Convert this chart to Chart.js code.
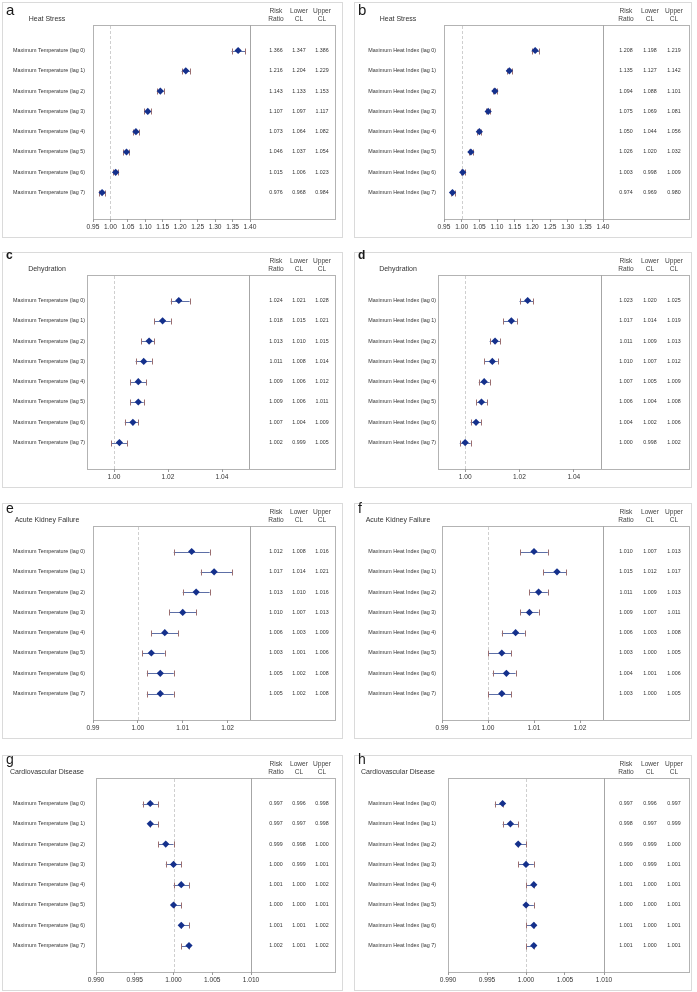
<!DOCTYPE html>
<html><head><meta charset="utf-8">
<script src="https://cdn.jsdelivr.net/npm/chart.js@4"></script>
<style>
html,body{margin:0;padding:0;background:#fff;overflow:hidden;width:697px;height:992px;position:relative;}
canvas{position:absolute;}
</style></head><body>
<script>
// ---------- DATA ----------
const panelLetters = ['a','b','c','d','e','f','g','h'];
const panelTitles = ['Heat Stress','Heat Stress','Dehydration','Dehydration','Acute Kidney Failure','Acute Kidney Failure','Cardiovascular Disease','Cardiovascular Disease'];
const rowLabelsTemp = ['Maximum Temperature (lag 0)','Maximum Temperature (lag 1)','Maximum Temperature (lag 2)','Maximum Temperature (lag 3)','Maximum Temperature (lag 4)','Maximum Temperature (lag 5)','Maximum Temperature (lag 6)','Maximum Temperature (lag 7)'];
const rowLabelsHeat = ['Maximum Heat Index (lag 0)','Maximum Heat Index (lag 1)','Maximum Heat Index (lag 2)','Maximum Heat Index (lag 3)','Maximum Heat Index (lag 4)','Maximum Heat Index (lag 5)','Maximum Heat Index (lag 6)','Maximum Heat Index (lag 7)'];
const tableHeaders = [['Risk','Ratio'],['Lower','CL'],['Upper','CL']];

const rrA = [1.366,1.216,1.143,1.107,1.073,1.046,1.015,0.976];
const loA = [1.347,1.204,1.133,1.097,1.064,1.037,1.006,0.968];
const hiA = [1.386,1.229,1.153,1.117,1.082,1.054,1.023,0.984];

const rrB = [1.208,1.135,1.094,1.075,1.050,1.026,1.003,0.974];
const loB = [1.198,1.127,1.088,1.069,1.044,1.020,0.998,0.969];
const hiB = [1.219,1.142,1.101,1.081,1.056,1.032,1.009,0.980];

const rrC = [1.024,1.018,1.013,1.011,1.009,1.009,1.007,1.002];
const loC = [1.021,1.015,1.010,1.008,1.006,1.006,1.004,0.999];
const hiC = [1.028,1.021,1.015,1.014,1.012,1.011,1.009,1.005];

const rrD = [1.023,1.017,1.011,1.010,1.007,1.006,1.004,1.000];
const loD = [1.020,1.014,1.009,1.007,1.005,1.004,1.002,0.998];
const hiD = [1.025,1.019,1.013,1.012,1.009,1.008,1.006,1.002];

const rrE = [1.012,1.017,1.013,1.010,1.006,1.003,1.005,1.005];
const loE = [1.008,1.014,1.010,1.007,1.003,1.001,1.002,1.002];
const hiE = [1.016,1.021,1.016,1.013,1.009,1.006,1.008,1.008];

const rrF = [1.010,1.015,1.011,1.009,1.006,1.003,1.004,1.003];
const loF = [1.007,1.012,1.009,1.007,1.003,1.000,1.001,1.000];
const hiF = [1.013,1.017,1.013,1.011,1.008,1.005,1.006,1.005];

const rrG = [0.997,0.997,0.999,1.000,1.001,1.000,1.001,1.002];
const loG = [0.996,0.997,0.998,0.999,1.000,1.000,1.001,1.001];
const hiG = [0.998,0.998,1.000,1.001,1.002,1.001,1.002,1.002];

const rrH = [0.997,0.998,0.999,1.000,1.001,1.000,1.001,1.001];
const loH = [0.996,0.997,0.999,0.999,1.000,1.000,1.000,1.000];
const hiH = [0.997,0.999,1.000,1.001,1.001,1.001,1.001,1.001];

const ticksHeatStress = [0.95,1.00,1.05,1.10,1.15,1.20,1.25,1.30,1.35,1.40];
const ticksDehydration = [1.00,1.02,1.04];
const ticksKidney = [0.99,1.00,1.01,1.02];
const ticksCardio = [0.990,0.995,1.000,1.005,1.010];

// ---------- LAYOUT ----------
const FONT = '"Liberation Sans", Arial, Helvetica, sans-serif';
const panels = [
  {rr:rrA, lo:loA, hi:hiA, labels:rowLabelsTemp, ticks:ticksHeatStress, min:0.95, max:1.40, dec:2, col:0, row:0, L:93, R:250, lb:15, lsize:15, lbold:false},
  {rr:rrB, lo:loB, hi:hiB, labels:rowLabelsHeat, ticks:ticksHeatStress, min:0.95, max:1.40, dec:2, col:1, row:0, L:93, R:252, lb:15, lsize:15, lbold:false},
  {rr:rrC, lo:loC, hi:hiC, labels:rowLabelsTemp, ticks:ticksDehydration, min:0.99, max:1.05, dec:2, col:0, row:1, L:87, R:249, lb:9, lsize:12, lbold:true},
  {rr:rrD, lo:loD, hi:hiD, labels:rowLabelsHeat, ticks:ticksDehydration, min:0.99, max:1.05, dec:2, col:1, row:1, L:87, R:250, lb:9, lsize:12, lbold:true},
  {rr:rrE, lo:loE, hi:hiE, labels:rowLabelsTemp, ticks:ticksKidney, min:0.99, max:1.025, dec:2, col:0, row:2, L:93, R:250, lb:12, lsize:14, lbold:false},
  {rr:rrF, lo:loF, hi:hiF, labels:rowLabelsHeat, ticks:ticksKidney, min:0.99, max:1.025, dec:2, col:1, row:2, L:91, R:252, lb:12, lsize:14, lbold:false},
  {rr:rrG, lo:loG, hi:hiG, labels:rowLabelsTemp, ticks:ticksCardio, min:0.990, max:1.010, dec:3, col:0, row:3, L:96, R:251, lb:11, lsize:14, lbold:false},
  {rr:rrH, lo:loH, hi:hiH, labels:rowLabelsHeat, ticks:ticksCardio, min:0.990, max:1.010, dec:3, col:1, row:3, L:97, R:253, lb:11, lsize:14, lbold:false}
];
const colX = [0, 351];
const rowY = [0, 250, 501, 753];
const CW = 346, CH = 240;
const colGeom = [
  {outerL:2, outerW:340, boxR:335, tcols:[276,299,322]},
  {outerL:3, outerW:337, boxR:338, tcols:[275,299,323]}
];
const BOX_TOP = 25, BOX_BOTTOM = 219;
const ROW0 = 50.5, ROWSTEP = 20.3;
const yMin = -(ROW0 - BOX_TOP) / ROWSTEP;
const yMax = yMin + (BOX_BOTTOM - BOX_TOP) / ROWSTEP;

function makePlugin(p, idx) {
  const g = colGeom[p.col];
  return {
    id: 'forest' + idx,
    beforeDraw(chart) {
      const ctx = chart.ctx, ca = chart.chartArea;
      const xs = chart.scales.x, ys = chart.scales.y;
      ctx.save();
      // outer panel frame
      ctx.strokeStyle = '#dadada'; ctx.lineWidth = 1;
      ctx.strokeRect(g.outerL + 0.5, 2.5, g.outerW, 235);
      // panel letter
      ctx.fillStyle = '#1a1a1a';
      ctx.font = (p.lbold ? 'bold ' : '') + p.lsize + 'px ' + FONT;
      ctx.textAlign = 'left'; ctx.textBaseline = 'alphabetic';
      ctx.fillText(panelLetters[idx], g.outerL + 4, p.lb);
      // title
      ctx.fillStyle = '#333';
      ctx.font = '7px ' + FONT;
      ctx.textAlign = 'center'; ctx.textBaseline = 'middle';
      ctx.fillText(panelTitles[idx], 47, 19);
      // table headers
      ctx.font = '6.6px ' + FONT;
      ctx.fillStyle = '#444';
      tableHeaders.forEach((h, k) => {
        ctx.fillText(h[0], g.tcols[k], 11);
        ctx.fillText(h[1], g.tcols[k], 19);
      });
      // inner box
      const L = Math.round(ca.left), T = Math.round(ca.top), B = Math.round(ca.bottom), R = Math.round(ca.right);
      ctx.strokeStyle = '#b3b3b3';
      ctx.strokeRect(L + 0.5, T + 0.5, g.boxR - L, B - T);
      // separator line at end of axis
      ctx.strokeStyle = '#a6a6a6';
      ctx.beginPath(); ctx.moveTo(R + 0.5, T); ctx.lineTo(R + 0.5, B); ctx.stroke();
      // reference line at 1
      const x1 = Math.round(xs.getPixelForValue(1)) + 0.5;
      ctx.strokeStyle = '#cfcfcf'; ctx.setLineDash([3, 2]);
      ctx.beginPath(); ctx.moveTo(x1, T + 1); ctx.lineTo(x1, B); ctx.stroke();
      ctx.setLineDash([]);
      // table values
      ctx.fillStyle = '#333';
      ctx.font = '5.3px ' + FONT;
      ctx.textAlign = 'center'; ctx.textBaseline = 'middle';
      const cols = [p.rr, p.lo, p.hi];
      for (let i = 0; i < p.rr.length; i++) {
        const y = ys.getPixelForValue(i);
        cols.forEach((arr, k) => ctx.fillText(arr[i].toFixed(3), g.tcols[k], y));
      }
      ctx.restore();
    },
    beforeDatasetsDraw(chart) {
      const ctx = chart.ctx, xs = chart.scales.x, ys = chart.scales.y;
      ctx.save();
      ctx.lineWidth = 1;
      for (let i = 0; i < p.rr.length; i++) {
        const y = Math.round(ys.getPixelForValue(i)) + 0.5;
        const xl = xs.getPixelForValue(p.lo[i]), xh = xs.getPixelForValue(p.hi[i]);
        ctx.strokeStyle = '#5d6fa6';
        ctx.beginPath(); ctx.moveTo(xl, y); ctx.lineTo(xh, y); ctx.stroke();
        ctx.strokeStyle = '#9a6e70';
        ctx.beginPath();
        ctx.moveTo(Math.round(xl) + 0.5, y - 3); ctx.lineTo(Math.round(xl) + 0.5, y + 3);
        ctx.moveTo(Math.round(xh) + 0.5, y - 3); ctx.lineTo(Math.round(xh) + 0.5, y + 3);
        ctx.stroke();
      }
      ctx.restore();
    }
  };
}

panels.forEach((p, idx) => {
  const cv = document.createElement('canvas');
  cv.width = CW; cv.height = CH;
  cv.style.left = colX[p.col] + 'px';
  cv.style.top = rowY[p.row] + 'px';
  cv.style.width = CW + 'px'; cv.style.height = CH + 'px';
  document.body.appendChild(cv);
  new Chart(cv.getContext('2d'), {
    type: 'scatter',
    data: {
      datasets: [{
        data: p.rr.map((v, i) => ({x: v, y: i})),
        pointStyle: 'rectRot',
        pointRadius: 3.6,
        pointHoverRadius: 3.6,
        backgroundColor: '#14308c',
        borderColor: '#14308c',
        borderWidth: 0
      }]
    },
    options: {
      responsive: false,
      devicePixelRatio: 1,
      animation: false,
      events: [],
      layout: {padding: {top: BOX_TOP, left: 0, bottom: 0, right: CW - p.R}},
      plugins: {legend: {display: false}, tooltip: {enabled: false}},
      scales: {
        x: {
          type: 'linear', position: 'bottom', min: p.min, max: p.max,
          afterBuildTicks: (axis) => { axis.ticks = p.ticks.map(v => ({value: v})); },
          afterFit: (axis) => { axis.height = CH - BOX_BOTTOM; },
          ticks: {
            callback: (v) => Number(v).toFixed(p.dec),
            font: {family: FONT, size: 6.6}, color: '#333', padding: 1.5,
            maxRotation: 0, autoSkip: false
          },
          grid: {display: true, drawOnChartArea: false, drawTicks: true, tickLength: 3, color: '#9a9a9a'},
          border: {display: false}
        },
        y: {
          type: 'linear', position: 'left', reverse: true, min: yMin, max: yMax,
          afterBuildTicks: (axis) => { axis.ticks = p.labels.map((l, i) => ({value: i})); },
          afterFit: (axis) => { axis.width = p.L; },
          ticks: {
            callback: (v) => p.labels[v],
            font: {family: FONT, size: 5.4}, color: '#333',
            padding: p.L - 85, autoSkip: false
          },
          grid: {display: false, drawTicks: false},
          border: {display: false}
        }
      }
    },
    plugins: [makePlugin(p, idx)]
  });
});
</script>
</body></html>
